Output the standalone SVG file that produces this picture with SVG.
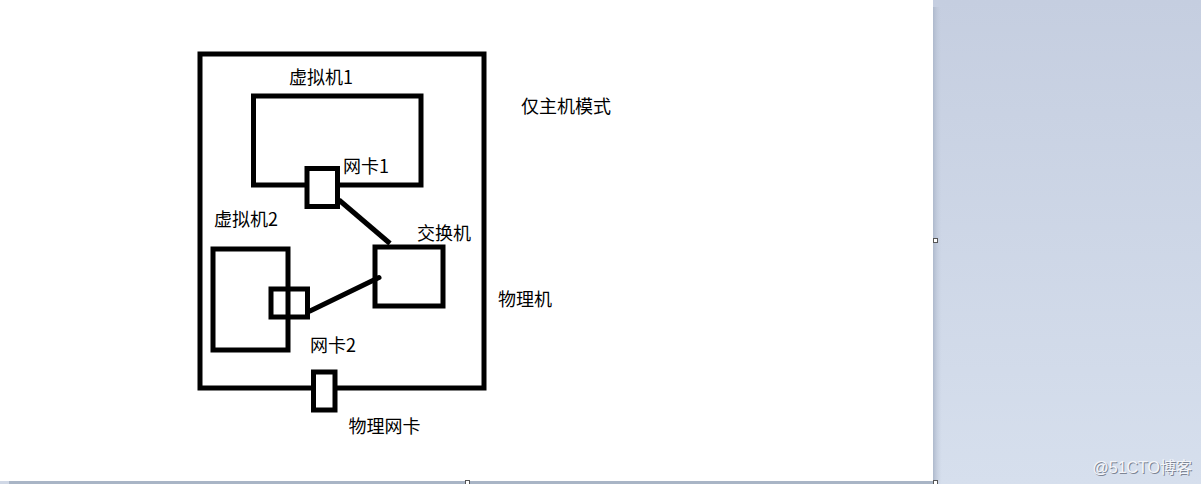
<svg xmlns="http://www.w3.org/2000/svg" width="1201" height="484" viewBox="0 0 1201 484">
  <defs>
    <linearGradient id="bg" x1="0" y1="0" x2="0" y2="1">
      <stop offset="0" stop-color="#c5cee0"/>
      <stop offset="1" stop-color="#d6dfed"/>
    </linearGradient>
    <linearGradient id="edge" x1="0" y1="0" x2="1" y2="0">
      <stop offset="0" stop-color="#aeb9cc"/>
      <stop offset="1" stop-color="#c7d0e1" stop-opacity="0"/>
    </linearGradient>
    <style>
      .box { fill: none; stroke: #000; stroke-width: 5; }
      .wbox { fill: #fff; stroke: #000; stroke-width: 5; }
      .lbl { font-family: "Microsoft YaHei", "Noto Sans CJK SC", "Noto Sans", sans-serif; font-size: 18px; fill: #000; }
      .wire { stroke: #000; stroke-width: 5; fill: none; }
      .handle { fill: #fff; stroke: #555; stroke-width: 1; }
      .wm { font-family: "Liberation Sans", "Noto Sans CJK SC", sans-serif; font-size: 16px; }
    </style>
  </defs>

  <!-- background / window chrome -->
  <rect x="0" y="0" width="1201" height="484" fill="#fff"/>
  <rect x="933" y="0" width="268" height="484" fill="url(#bg)"/>
  <rect x="933" y="7" width="9" height="477" fill="url(#edge)"/>
  <rect x="0" y="481" width="933" height="3" fill="#d0d8e6"/>
  <rect x="9" y="481" width="924" height="3" fill="#a9b5c6"/>
  <rect class="handle" x="933.5" y="238.5" width="4" height="4"/>
  <rect class="handle" x="465.5" y="480.5" width="4" height="4"/>
  <rect class="handle" x="933.5" y="480.5" width="4" height="4"/>

  <g id="physical-machine">
    <rect class="box" x="200" y="54" width="284" height="334"/>
    <text class="lbl" x="498" y="306">物理机</text>
  </g>

  <g id="vm1">
    <rect class="box" x="253.5" y="96" width="167.5" height="89"/>
    <text class="lbl" x="289" y="84">虚拟机1</text>
  </g>

  <g id="vm2">
    <rect class="box" x="213" y="249" width="75" height="101"/>
    <text class="lbl" x="214" y="226">虚拟机2</text>
  </g>

  <g id="switch">
    <rect class="box" x="375" y="247" width="68" height="59"/>
    <text class="lbl" x="417" y="240">交换机</text>
  </g>

  <g id="nic1">
    <rect class="wbox" x="307" y="168.5" width="30.5" height="38"/>
    <text class="lbl" x="343" y="173">网卡1</text>
  </g>

  <g id="nic2">
    <rect class="box" x="271" y="289" width="36.5" height="28"/>
    <text class="lbl" x="310" y="352">网卡2</text>
  </g>

  <g id="physical-nic">
    <rect class="wbox" x="313.5" y="372" width="21.5" height="38"/>
    <text class="lbl" x="348.5" y="432.5">物理网卡</text>
  </g>

  <g id="mode-label">
    <text class="lbl" x="521" y="113">仅主机模式</text>
  </g>

  <g id="connectors">
    <line class="wire" x1="339" y1="200" x2="390" y2="243.5"/>
    <line class="wire" x1="310" y1="311" x2="379" y2="277.5" stroke-linecap="round"/>
  </g>

  <g id="watermark">
    <text class="wm" x="1093.5" y="473.5" fill="#7d8594">@51CTO博客</text>
    <text class="wm" x="1092.5" y="472.5" fill="#f4f6fa">@51CTO博客</text>
  </g>
</svg>
